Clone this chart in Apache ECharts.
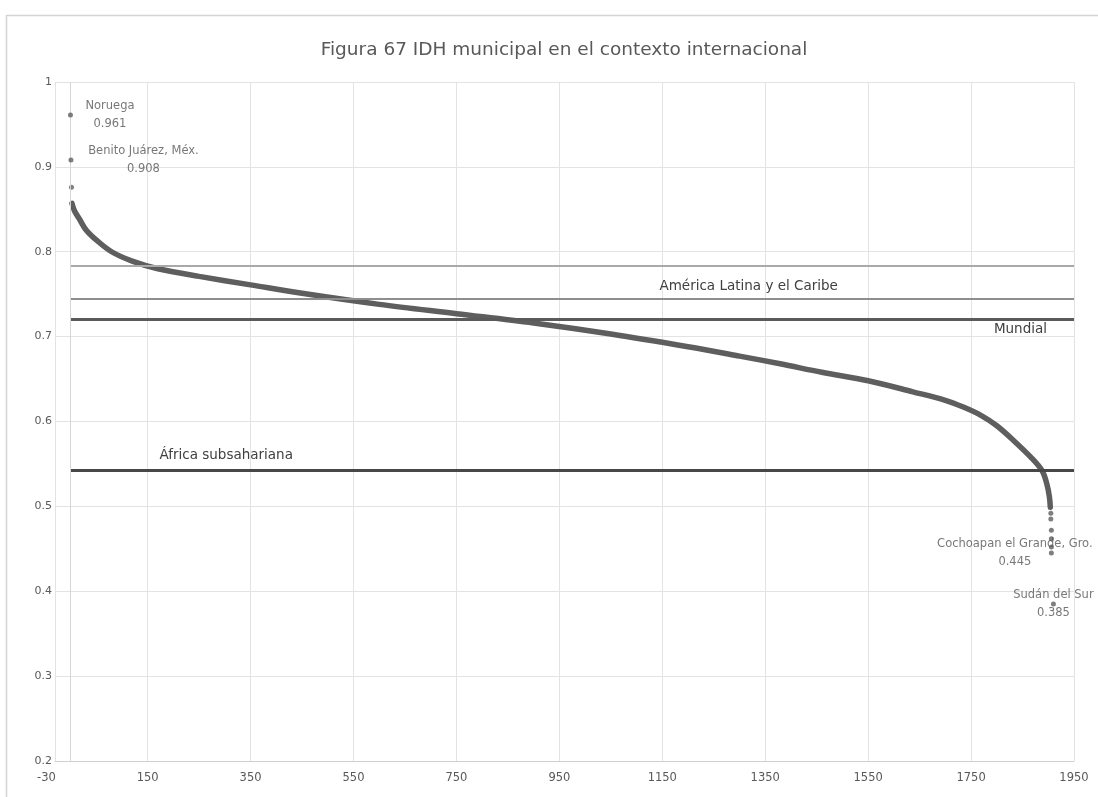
<!DOCTYPE html>
<html>
<head>
<meta charset="utf-8">
<script src="https://cdn.jsdelivr.net/npm/echarts@6/dist/echarts.min.js"></script>
<style>
  html, body { margin: 0; padding: 0; background: #ffffff; }
  #chart { width: 1098px; height: 797px; }
</style>
</head>
<body>
<div id="chart"></div>
<script>
// ---------- Data ----------
const titleText = 'Figura 67 IDH municipal en el contexto internacional';

// x-axis tick labels
const xTicks = [-30, 150, 350, 550, 750, 950, 1150, 1350, 1550, 1750, 1950];

// Municipal IDH curve (sorted)
const curveX = [3, 8, 18, 30, 50, 80, 120, 170, 250, 350, 450, 600, 750, 900, 1050, 1200, 1300, 1379, 1460, 1550, 1637, 1700, 1735, 1770, 1800, 1832, 1866, 1888, 1897, 1902, 1904];
const curveY = [0.857, 0.848, 0.838, 0.826, 0.814, 0.800, 0.789, 0.780, 0.771, 0.761, 0.751, 0.738, 0.727, 0.716, 0.703, 0.688, 0.677, 0.668, 0.658, 0.648, 0.635, 0.625, 0.617, 0.607, 0.595, 0.578, 0.558, 0.542, 0.527, 0.512, 0.499];

// isolated dots
const dotX = [2, 1905, 1905, 1906, 1906, 1906];
const dotY = [0.876, 0.492, 0.485, 0.472, 0.462, 0.452];

// labelled points
const pointNames = ['Noruega', 'Benito Juárez, Méx.', 'Cochoapan el Grande, Gro.', 'Sudán del Sur'];
const pointX = [0, 1, 1906, 1910];
const pointY = [0.961, 0.908, 0.445, 0.385];

// reference lines
const refNames = ['', 'América Latina y el Caribe', 'Mundial', 'África subsahariana'];
const refValues = [0.783, 0.745, 0.720, 0.543];

// ---------- Styling ----------
const FONT = 'DejaVu Sans';
const txt = '#595959';
const curveColor = '#5e5e5e';

const refStyles = [
  { color: '#a9a9a9', width: 2, label: null },
  { color: '#8e8e8e', width: 2, label: { position: 'insideStartTop', distance: [589, 5] } },
  { color: '#5a5a5a', width: 3, label: { position: 'insideEndBottom', distance: [27, 3] } },
  { color: '#474747', width: 3, label: { position: 'insideStartTop', distance: [89, 7] } }
];

const pointLabelStyles = [
  { position: 'right', align: 'center', distance: 37 },
  { position: 'right', align: 'center', distance: 70 },
  { position: 'left', align: 'center', distance: 34 },
  { position: 'inside', align: 'center', distance: 0 }
];

const curveData = curveX.map((x, i) => [x, curveY[i]]);
const dotData = dotX.map((x, i) => [x, dotY[i]]);
const pointData = pointNames.map((n, i) => ({
  name: n,
  value: [pointX[i], pointY[i]],
  label: {
    show: true,
    position: pointLabelStyles[i].position,
    align: pointLabelStyles[i].align,
    distance: pointLabelStyles[i].distance,
    verticalAlign: 'middle',
    formatter: p => p.name + '\n' + p.value[1].toFixed(3),
    color: '#555555',
    fontFamily: FONT,
    fontSize: 11.5,
    lineHeight: 18
  }
}));

const markData = refValues.map((v, i) => {
  const st = refStyles[i];
  return [
    {
      name: refNames[i],
      coord: [0, v],
      lineStyle: { color: st.color, width: st.width, type: 'solid' },
      label: st.label ? {
        show: true,
        position: st.label.position,
        distance: st.label.distance,
        formatter: refNames[i],
        color: '#404040',
        fontFamily: FONT,
        fontSize: 13.5
      } : { show: false }
    },
    { coord: [1950, v] }
  ];
});

// vertical axis line at x = 0 (the value axis crosses there)
markData.push([
  { coord: [0, 0.2], lineStyle: { color: '#d6d6d6', width: 1, type: 'solid' }, label: { show: false } },
  { coord: [0, 1] }
]);

const chart = echarts.init(document.getElementById('chart'), null, { renderer: 'canvas' });

chart.setOption({
  backgroundColor: '#ffffff',
  animation: false,
  title: {
    text: titleText,
    left: 559,
    top: 36,
    textAlign: 'center',
    textStyle: { fontFamily: FONT, fontSize: 18.5, fontWeight: 'normal', color: txt }
  },
  graphic: [{
    type: 'rect',
    left: 4, top: 13,
    shape: { width: 1200, height: 900 },
    style: { fill: 'none', stroke: '#d4d4d4', lineWidth: 1.5 },
    silent: true
  }],
  grid: { left: 55, right: 24, top: 82, bottom: 36, containLabel: false },
  xAxis: {
    type: 'value',
    min: -30, max: 1950,
    axisLine: { show: true, onZero: false, lineStyle: { color: '#d0d0d0' } },
    axisTick: { show: false, customValues: xTicks },
    axisLabel: {
      customValues: xTicks,
      color: txt, fontFamily: FONT, fontSize: 11.5, margin: 11,
      formatter: v => (v === xTicks[0] ? '{m|' + v + '}' : String(v)),
      rich: { m: { color: txt, fontFamily: FONT, fontSize: 11.5, padding: [0, 17, 0, 0] } }
    },
    splitLine: { show: true, lineStyle: { color: '#e3e3e3', width: 1 } }
  },
  yAxis: {
    type: 'value',
    min: 0.2, max: 1, interval: 0.1,
    axisLine: { show: false, onZero: false },
    axisTick: { show: false },
    axisLabel: {
      color: txt, fontFamily: FONT, fontSize: 11, margin: 3,
      formatter: v => String(+v.toFixed(1))
    },
    splitLine: { show: true, lineStyle: { color: '#e3e3e3', width: 1 } }
  },
  series: [
    {
      type: 'line',
      name: 'ref',
      data: [],
      silent: true,
      markLine: {
        silent: true,
        symbol: ['none', 'none'],
        animation: false,
        data: markData
      }
    },
    {
      type: 'line',
      name: 'Municipios',
      data: curveData,
      smooth: 0.35,
      showSymbol: false,
      symbol: 'none',
      lineStyle: { color: curveColor, width: 5.5, cap: 'round' },
      z: 3
    },
    {
      type: 'scatter',
      name: 'dots',
      data: dotData,
      symbol: 'circle',
      symbolSize: 5,
      itemStyle: { color: curveColor },
      z: 4
    },
    {
      type: 'scatter',
      name: 'labelled',
      data: pointData,
      symbol: 'circle',
      symbolSize: 5,
      itemStyle: { color: curveColor },
      z: 5
    }
  ]
});
</script>
</body>
</html>
